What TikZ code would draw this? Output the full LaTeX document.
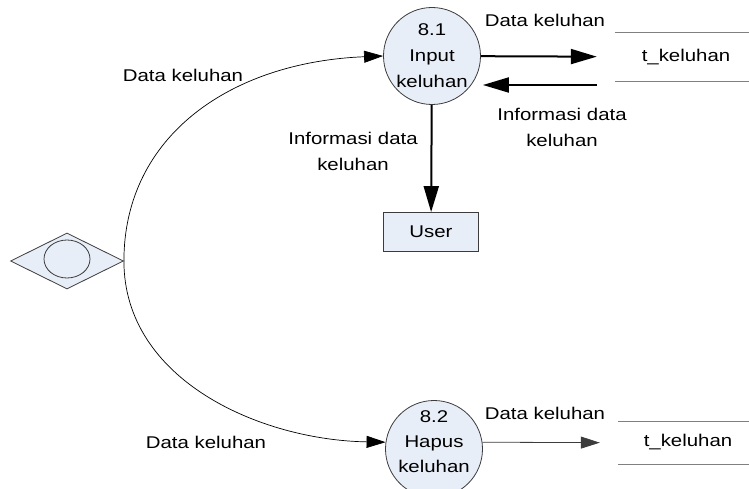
\documentclass[tikz,border=0pt]{standalone}
\usepackage{fontspec}
\setmainfont{Liberation Sans}[FakeStretch=1.2]
\usetikzlibrary{arrows.meta,shapes.geometric}
\definecolor{procfill}{RGB}{232,238,248}
\definecolor{edgegray}{RGB}{60,60,60}
\definecolor{storegray}{RGB}{128,128,128}
\begin{document}
\begin{tikzpicture}[x=1pt,y=-1pt,
  every node/.style={font=\fontsize{17}{26}\selectfont, align=center, inner sep=0pt},
  proc/.style={circle, draw=edgegray, fill=procfill, line width=0.8pt, minimum size=97pt},
  storebox/.style={rectangle, minimum width=134pt, minimum height=#1},
  storelines/.style={draw=storegray, line width=1pt},
  bigarrow/.style={draw=black, line width=2pt, -{Triangle[length=26pt,width=15pt]}},
  smallarrow/.style={draw=black, line width=0.7pt, -{Triangle[length=19pt,width=12pt]}},
  entbox/.style={rectangle, draw=edgegray, fill=procfill, line width=0.8pt, minimum width=95pt, minimum height=39pt}]
\path[use as bounding box, clip] (0,0) rectangle (749,489);

% processes
\node[proc] (p1) at (432,56) {8.1\\Input\\keluhan};
\node[proc] (p2) at (434,449) {};
\node[font=\fontsize{17}{25}\selectfont] (p2t) at (434,442) {8.2\\Hapus\\keluhan};

% user entity
\node[entbox] (u) at (431,232) {User};

% diamond
\node[diamond, draw=edgegray, fill=procfill, line width=0.8pt, minimum width=113pt, minimum height=56pt, aspect=2] (d) at (67,261) {};
\draw[edgegray, line width=0.8pt] (67,259) ellipse [x radius=23, y radius=19];

% data stores
\node[storebox=48pt] (s1) at (682,57) {};
\draw[storelines] (s1.north west) -- (s1.north east) (s1.south west) -- (s1.south east);
\node (s1t) at (686,57) {t\_keluhan};
\node[storebox=42pt] (s2) at (685,443) {};
\draw[storelines] (s2.north west) -- (s2.north east) (s2.south west) -- (s2.south east);
\node (s2t) at (688,442) {t\_keluhan};

% flows
\draw[bigarrow, shorten >=18pt] (p1) -- (s1);
\coordinate (r1) at (597,85);
\draw[bigarrow, shorten >=2pt] (r1) -- (r1 -| p1.east);
\draw[bigarrow] (p1) -- (u);
\draw[smallarrow] (d.east) .. controls (124,135) and (232,62) .. (p1.west);
\draw[smallarrow] (d.east) .. controls (124,380) and (260,440) .. (p2.172);
\draw[draw=edgegray, line width=0.8pt, -{Triangle[length=19pt,width=12pt]}, shorten >=18pt] (p2.8) -- (s2);

% labels
\node (l1) at (545,20) {Data keluhan};
\node (l2) at (562,127) {Informasi data\\keluhan};
\node (l3) at (353,151) {Informasi data\\keluhan};
\node (l4) at (183,75) {Data keluhan};
\node (l5) at (206,442) {Data keluhan};
\node (l6) at (545,413) {Data keluhan};
\end{tikzpicture}
\end{document}
